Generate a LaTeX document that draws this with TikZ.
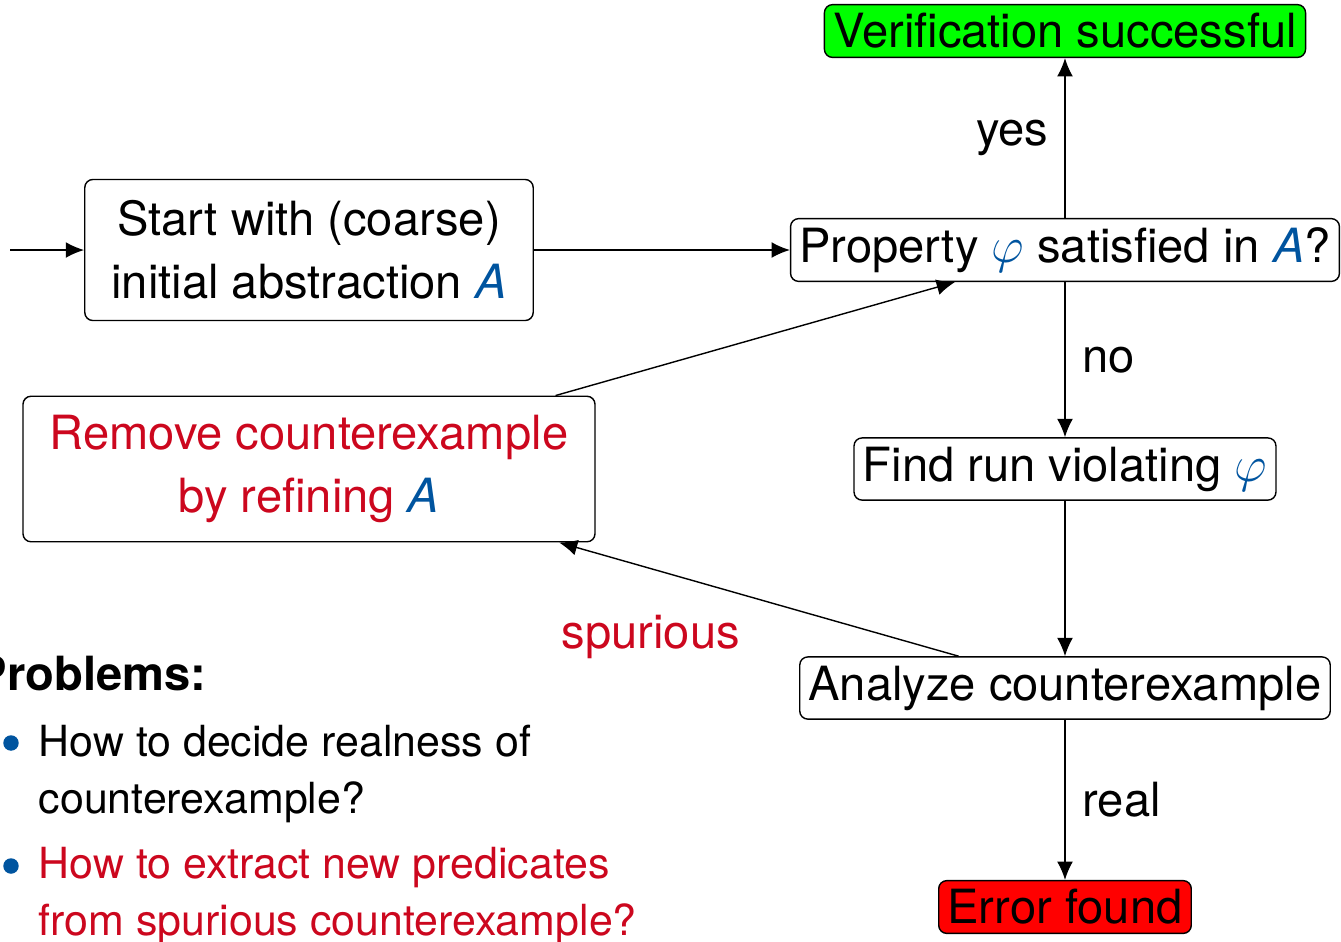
\documentclass[tikz,border=0pt]{standalone}
\usepackage{fontspec}
\setmainfont{TeX Gyre Heros}
\usetikzlibrary{calc}
\usetikzlibrary{arrows.meta}
\definecolor{cegblue}{RGB}{0,84,159}
\definecolor{cegred}{RGB}{204,7,30}
\tikzset{
  every picture/.style={
    >={Latex[width=4.5pt, length=5.2pt]}
  },
  box/.style={
    draw, rounded corners=2.3pt, inner sep=2.5pt,
    font=\fontsize{13.4}{17.9}\selectfont
  },
  bigbox/.style={
    box, align=center, inner xsep=7.6pt, inner ysep=6pt
  },
  lbl/.style={
    font=\fontsize{13.4}{17.9}\selectfont
  },
  item/.style={
    anchor=base west, inner sep=0pt, align=left,
    font=\fontsize{12.2}{16.2}\selectfont
  },
  point/.style={
    circle, fill=cegblue, minimum width=4.4pt,
    inner sep=0pt
  }
}
\newcommand{\absA}{\textcolor{cegblue}{\textit{A}}}
\newcommand{\propphi}{\textcolor{cegblue}{$\varphi$}}

\begin{document}
\begin{tikzpicture}[x=0.01cm, y=-0.01cm]
  \useasboundingbox (0,0) rectangle (1341,941);
  % boxes
  \node[box, fill=green] (succ) at (1065,31) {Verification successful};
  \node[box] (prop) at (1065,250) {Property \propphi{} satisfied in \absA?};
  \node[bigbox] (start) at (309,250) {Start with (coarse)\\initial abstraction \absA};
  \node[bigbox, inner ysep=5.4pt, text=cegred] (remove) at (309,469) {Remove counterexample\\by refining \absA};
  \node[box] (find) at (1065,469) {Find run violating \propphi};
  \node[box] (analyze) at (1065,688) {Analyze counterexample};
  \node[box, fill=red] (error) at (1065,907) {Error found};
  % connectors
  \coordinate (entry) at (10,250);
  \draw[->] (entry) -- (start);
  \draw[->] (start) -- (prop);
  \draw[->] (prop) -- (succ) node[lbl, midway, left=1.2pt] {yes};
  \draw[->] (prop) -- (find) node[lbl, midway, right=1.5pt] {no};
  \draw[->] (find) -- (analyze);
  \draw[->] (analyze) -- (error) node[lbl, midway, right=1.5pt] {real};
  \draw[->] ($(analyze.north west)!0.3!(analyze.north east)$)
    -- ($(remove.south west)!0.936!(remove.south east)$);
  \draw[->] ($(remove.north west)!0.93!(remove.north east)$)
    -- ($(prop.south west)!0.3!(prop.south east)$);
  \node[lbl, text=cegred, anchor=base west, inner sep=0pt] (spur) at (561,648) {spurious};
  % problems
  \node[lbl, anchor=base west, inner sep=0pt, font=\fontsize{13.4}{17.9}\selectfont\bfseries] (probs) at (-25,690) {Problems:};
  \node[point] (b1) at (11,743) {};
  \node[item] (p1) at (38,813) {How to decide realness of\\counterexample?};
  \node[point] (b2) at (11,866) {};
  \node[item, text=cegred] (p2) at (38,935) {How to extract new predicates\\from spurious counterexample?};
\end{tikzpicture}
\end{document}
